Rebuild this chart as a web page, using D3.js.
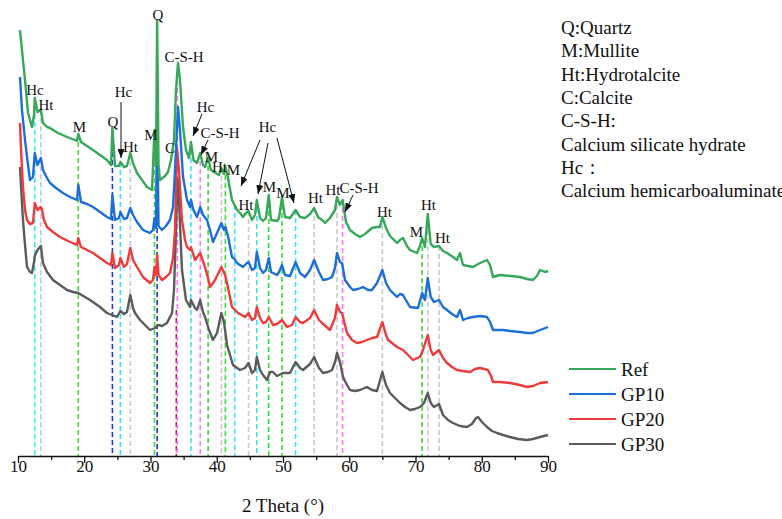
<!DOCTYPE html>
<html>
<head>
<meta charset="utf-8">
<script src="https://cdn.jsdelivr.net/npm/d3@7"></script>
<style>
body{margin:0;background:#fff}
svg text{font-family:"Liberation Serif","Times New Roman",serif;fill:#111}
</style>
</head>
<body>
<svg class="chart" width="782" height="519" font-family="Liberation Serif, Times New Roman, serif"></svg>
<script>
// 2 theta (deg), intensity (a.u.)
var refData = [[10.30,426],[10.75,396],[11.06,376],[11.51,343],[12.11,329],[12.42,341],[12.53,358],[12.94,344],[13.45,346],[13.77,333],[14.38,329],[14.83,328],[16.04,323],[17.40,319],[18.60,316],[18.91,315],[19.1,322],[19.51,314],[21.32,306],[22.38,301],[23.43,296],[24.04,291],[24.25,328],[24.64,290],[25.25,290],[25.45,294],[26.00,289],[26.45,290],[26.95,303],[27.36,293],[27.96,283],[28.72,276],[29.47,269],[30.23,266],[30.6,326],[30.83,291],[31.0,436],[31.21,291],[31.43,276],[32.19,280],[32.64,284],[33.09,296],[33.55,316],[33.85,366],[34.15,393],[34.45,376],[34.91,329],[35.36,306],[35.81,298],[36.1,314],[36.49,296],[37.02,293],[37.5,303],[37.92,291],[38.23,289],[38.7,298],[39.13,286],[39.58,284],[40.34,281],[40.7,288],[41.09,282],[41.3,289],[41.70,278],[42.30,256],[42.7,251],[43.06,246],[43.51,243],[43.96,239],[44.26,242],[44.8,245],[45.32,236],[45.77,241],[46.05,256],[46.53,238],[46.98,235],[47.43,238],[47.85,261],[48.19,236],[49.09,235],[49.40,238],[49.85,259],[50.30,239],[51.06,238],[51.9,246],[52.57,239],[53.32,238],[54.08,242],[54.7,248],[55.28,239],[55.89,236],[56.34,233],[57.09,238],[57.85,246],[58.15,259],[58.60,251],[59.0,256],[59.51,234],[60.11,226],[60.87,222],[61.62,219],[62.38,222],[63.43,228],[64.19,229],[64.64,229],[65.0,239],[65.55,228],[66.15,220],[67.21,213],[67.66,216],[68.11,218],[68.72,210],[69.17,206],[70.23,203],[70.68,210],[71.0,218],[71.43,209],[71.85,242],[72.30,212],[72.79,209],[73.55,210],[74.15,205],[74.75,203],[75.66,199],[76.26,196],[76.72,203],[77.17,191],[77.92,190],[78.68,189],[79.74,193],[80.79,196],[81.25,191],[81.70,179],[82.75,181],[84.26,180],[85.77,179],[86.83,177],[87.74,176],[88.34,180],[88.79,186],[89.55,184],[90.0,185]];

var gp10Data = [[10.30,379],[10.60,346],[11.06,316],[11.51,291],[11.81,276],[12.26,279],[12.53,303],[12.94,291],[13.45,298],[13.77,286],[14.38,278],[14.83,273],[15.74,268],[16.79,263],[17.85,259],[18.91,256],[19.1,271],[19.51,254],[20.42,252],[21.32,249],[22.38,244],[23.43,239],[24.04,237],[24.25,261],[24.64,236],[25.25,238],[25.45,244],[26.00,237],[26.45,238],[26.95,248],[27.36,241],[27.96,234],[28.87,226],[29.92,223],[30.38,226],[30.6,238],[30.83,228],[31.0,346],[31.21,230],[31.74,226],[32.34,230],[32.94,236],[33.40,249],[33.70,286],[34.15,349],[34.45,326],[34.91,279],[35.51,256],[35.96,249],[36.1,256],[36.49,246],[37.02,239],[37.5,249],[37.92,241],[38.53,236],[38.98,226],[39.43,214],[40.04,223],[40.7,233],[41.09,226],[41.3,229],[41.70,220],[42.30,199],[42.7,197],[43.06,193],[43.96,189],[44.57,193],[44.8,194],[45.32,186],[45.77,188],[46.05,204],[46.53,188],[46.98,183],[47.43,186],[47.85,198],[48.19,184],[49.09,181],[49.40,184],[49.85,191],[50.30,181],[51.06,180],[51.9,194],[52.57,183],[53.32,179],[54.08,186],[54.7,196],[55.43,184],[56.04,176],[56.79,177],[57.40,179],[57.85,188],[58.15,203],[58.60,194],[58.91,193],[59.36,176],[60.11,169],[60.57,166],[61.32,167],[62.08,169],[62.83,166],[63.43,166],[64.19,173],[65.0,186],[65.55,173],[66.15,166],[67.21,159],[67.66,162],[68.11,161],[68.72,154],[69.17,149],[70.38,148],[71.0,163],[71.43,156],[71.85,178],[72.30,159],[72.79,154],[73.55,156],[74.15,149],[74.75,146],[75.51,142],[76.26,139],[76.72,146],[77.17,136],[77.92,138],[78.68,139],[79.74,140],[80.79,139],[81.25,134],[81.70,126],[83.21,126],[84.26,125],[85.77,124],[86.83,123],[87.74,123],[88.79,126],[90.0,129]];

var gp20Data = [[10.30,333],[10.53,296],[10.75,269],[11.06,246],[11.36,236],[11.81,232],[12.26,233],[12.53,253],[12.94,246],[13.45,249],[13.62,246],[13.92,236],[14.38,229],[15.28,224],[16.34,219],[17.55,215],[18.91,211],[19.1,218],[19.51,209],[20.42,206],[21.32,203],[22.38,198],[23.43,193],[24.04,191],[24.25,203],[24.64,188],[25.25,191],[25.45,198],[26.00,189],[26.45,192],[26.95,208],[27.36,196],[27.96,189],[28.87,179],[29.92,173],[30.38,176],[30.6,189],[30.83,181],[31.0,201],[31.21,181],[31.74,176],[32.34,179],[32.94,183],[33.40,198],[33.70,226],[34.0,308],[34.30,286],[34.75,236],[35.21,216],[35.51,209],[35.96,206],[36.1,209],[36.72,196],[37.5,203],[38.23,189],[38.68,178],[38.98,169],[39.43,173],[39.74,176],[40.34,184],[40.7,189],[41.25,181],[41.55,173],[42.30,149],[43.21,143],[44.26,139],[44.8,143],[45.32,136],[45.77,138],[46.05,149],[46.53,138],[46.98,133],[47.43,134],[47.85,139],[48.49,131],[49.09,132],[49.85,136],[50.60,129],[51.36,131],[51.9,139],[52.57,134],[53.02,133],[54.08,138],[54.7,146],[55.43,136],[55.89,133],[57.09,126],[57.85,138],[58.15,151],[58.60,144],[58.91,143],[59.66,123],[60.42,116],[61.17,113],[61.92,114],[62.68,116],[63.43,118],[64.19,119],[65.0,134],[65.55,121],[65.85,116],[67.21,109],[68.11,106],[68.87,101],[69.62,96],[70.68,99],[71.13,106],[71.85,121],[72.30,106],[72.64,101],[73.55,106],[74.15,98],[74.75,93],[75.51,89],[76.26,86],[77.17,85],[78.23,84],[78.98,87],[79.74,88],[80.94,86],[81.40,80],[81.70,74],[82.75,74],[84.26,73],[85.77,71],[86.83,69],[87.74,70],[88.79,73],[90.0,74]];

var gp30Data = [[10.30,289],[10.53,261],[10.75,236],[11.06,211],[11.36,189],[11.81,184],[12.11,183],[12.42,194],[12.53,200],[12.94,206],[13.45,210],[13.77,193],[14.38,184],[15.28,176],[16.34,171],[17.40,166],[18.30,164],[19.1,163],[20.11,159],[20.87,156],[22.38,149],[23.43,143],[24.19,141],[24.94,139],[25.45,145],[26.00,142],[26.45,144],[26.95,161],[27.36,148],[27.66,143],[28.42,136],[28.87,133],[29.92,126],[30.68,128],[31.13,131],[31.74,130],[32.49,133],[33.25,143],[33.55,166],[33.85,226],[34.08,278],[34.30,256],[34.75,186],[35.36,156],[35.96,149],[36.1,156],[36.72,148],[37.02,146],[37.5,156],[37.92,144],[38.23,139],[38.83,126],[39.43,116],[40.04,123],[40.7,143],[41.09,134],[41.55,111],[42.45,91],[43.51,86],[44.26,88],[44.8,93],[45.32,83],[45.77,86],[46.05,99],[46.53,86],[46.98,81],[47.58,76],[48.04,84],[48.49,84],[49.09,80],[50.00,83],[51.06,83],[51.9,94],[52.57,88],[53.02,86],[54.08,92],[54.7,99],[55.43,88],[56.04,83],[56.79,84],[57.40,86],[57.85,94],[58.15,103],[58.60,94],[59.06,79],[59.66,71],[60.11,66],[60.87,65],[61.62,66],[62.68,69],[63.43,66],[64.19,65],[65.0,84],[65.55,71],[66.15,63],[66.91,58],[67.66,53],[68.42,49],[69.17,46],[69.92,47],[70.68,49],[71.28,53],[71.85,63],[72.30,53],[72.79,49],[73.55,52],[74.15,41],[74.91,36],[75.66,33],[76.72,30],[77.77,29],[78.53,32],[79.13,38],[79.43,39],[80.04,34],[80.79,29],[81.55,25],[82.30,23],[83.21,21],[84.26,19],[85.47,17],[86.83,16],[87.74,17],[88.79,19],[90.0,21]];

var seriesNames = ["Ref", "GP10", "GP20", "GP30"];
var seriesColors = ["#37a85a", "#1d6fd8", "#ee3b3b", "#5b5b5b"];
var allSeries = [refData, gp10Data, gp20Data, gp30Data];

var xTicks = [10, 20, 30, 40, 50, 60, 70, 80, 90];
var xMinor = [15, 25, 35, 45, 55, 65, 75, 85];

// phase reference lines: 2 theta, phase, optional top intensity
var refLines = [[12.53,"Hc"],[13.45,"Ht"],[19.1,"M"],[24.25,"Q"],[25.45,"Hc"],[26.95,"Ht"],[30.6,"M"],[31.0,"Q"],[33.9,"C",146],[34.05,"CSH"],[36.1,"Hc"],[37.5,"CSH"],[38.7,"M"],[40.7,"Ht"],[41.3,"M"],[42.7,"Hc"],[44.8,"Ht"],[46.05,"Hc"],[47.85,"M"],[49.85,"M"],[51.9,"Hc"],[54.7,"Ht"],[58.15,"Ht"],[59.0,"CSH"],[65.0,"Ht"],[71.0,"M"],[71.85,"Ht"],[73.55,"Ht"]];
var phaseColors = {Hc: "#3ae4fa", Ht: "#c9c9c9", M: "#3ddc3d", Q: "#2536d6", CSH: "#ff78ff", C: "#8e2f2f"};

// peak labels: text, 2 theta, intensity
var peakLabels = [["Hc",12.57,361],["Ht",14.23,346],["M",19.28,324],["Q",24.34,329],["Hc",25.92,359],["Ht",26.98,304],["M",30.08,316],["Q",31.13,436],["C",32.94,303],["C-S-H",35.06,394],["Hc",38.3,344],["C-S-H",40.49,318],["M",39.2,294],["Ht",40.4,284],["M",42.53,281],["Hc",47.66,324],["Ht",44.42,246],["M",47.96,264],["M",50.0,258],["Ht",54.91,253],["Ht",57.55,261],["C-S-H",61.47,263],["Ht",65.32,239],["M",70.15,219],["Ht",71.96,246],["Ht",74.07,213]];

// arrows: from (2theta, I) to (2theta, I)
var arrows = [[25.55,354,25.55,298],[37.77,342,36.42,320],[38.68,316,37.62,301],[46.53,316,43.66,270],[47.74,313,46.23,262],[49.09,318,51.66,253],[60.57,261,59.36,244]];

var phaseNotes = ["Q:Quartz", "M:Mullite", "Ht:Hydrotalcite", "C:Calcite", "C-S-H:", "Calcium silicate hydrate", "Hc：", "Calcium hemicarboaluminate"];

var serif = "Liberation Serif, Times New Roman, serif";
var margin = {top: 16, left: 18};
var width = 530;
var height = 440;

var svg = d3.select(".chart");
var defs = svg.append("defs");
defs.append("marker")
    .attr("id", "arrowHead")
    .attr("markerUnits", "userSpaceOnUse")
    .attr("markerWidth", 9)
    .attr("markerHeight", 7)
    .attr("refX", 9)
    .attr("refY", 3.5)
    .attr("orient", "auto")
    .append("path")
    .attr("d", "M0,0 L9,3.5 L0,7 Z")
    .attr("fill", "#111");

var chart = svg.append("g")
    .attr("transform", "translate(" + margin.left + "," + margin.top + ")");

var xChart = d3.scaleLinear().domain([10, 90]).range([0, width]);
var yChart = d3.scaleLinear().domain([0, 440]).range([height, 0]);

function valueAt(data, t){
    var i = d3.bisector(function(d){ return d[0]; }).left(data, t);
    if(i <= 0) return data[0][1];
    if(i >= data.length) return data[data.length - 1][1];
    var a = data[i - 1], b = data[i];
    return a[1] + (b[1] - a[1]) * (t - a[0]) / (b[0] - a[0]);
}

// dashed phase lines
chart.selectAll(".refLine")
    .data(refLines)
    .enter()
    .append("line")
    .attr("class", "refLine")
    .attr("x1", function(d){ return xChart(d[0]); })
    .attr("x2", function(d){ return xChart(d[0]); })
    .attr("y1", function(d){ return yChart(d.length > 2 ? d[2] : valueAt(refData, d[0])); })
    .attr("y2", height)
    .attr("stroke", function(d){ return phaseColors[d[1]]; })
    .attr("stroke-width", 1.6)
    .attr("stroke-dasharray", "5,3");

var line = d3.line()
    .x(function(d){ return xChart(d[0]); })
    .y(function(d){ return yChart(d[1]); });

// draw bottom curve first so Ref ends on top
for(var s = allSeries.length - 1; s >= 0; s--){
    chart.append("path")
        .datum(allSeries[s])
        .attr("fill", "none")
        .attr("stroke", seriesColors[s])
        .attr("stroke-width", 2.4)
        .attr("stroke-linejoin", "round")
        .attr("d", line);
}

// x axis
var xAxis = d3.axisBottom(xChart).tickValues(xTicks).tickSize(7).tickSizeOuter(0);
var xAxisMinor = d3.axisBottom(xChart).tickValues(xMinor).tickSize(4).tickFormat("");

chart.append("g")
    .attr("class", "xMinor")
    .attr("transform", "translate(0," + height + ")")
    .call(xAxisMinor)
    .select(".domain").remove();

var gx = chart.append("g")
    .attr("class", "xAxis")
    .attr("transform", "translate(0," + height + ")")
    .call(xAxis);
gx.attr("font-family", serif).attr("font-size", 17);
gx.select(".domain").attr("stroke", "#111").attr("stroke-width", 1.3);
gx.selectAll(".tick line").attr("stroke", "#111").attr("stroke-width", 1.3);
chart.selectAll(".xMinor .tick line").attr("stroke", "#111").attr("stroke-width", 1.3);
gx.selectAll("text")
    .attr("y", 4)
    .style("font-family", serif)
    .style("font-size", "17px")
    .attr("fill", "#111");

chart.append("text")
    .attr("x", width / 2)
    .attr("y", height + 56)
    .attr("text-anchor", "middle")
    .style("font-family", serif)
    .style("font-size", "19px")
    .text("2 Theta (°)");

// peak labels
chart.selectAll(".peakLabel")
    .data(peakLabels)
    .enter()
    .append("text")
    .attr("class", "peakLabel")
    .attr("x", function(d){ return xChart(d[1]); })
    .attr("y", function(d){ return yChart(d[2]); })
    .attr("text-anchor", "middle")
    .style("font-family", serif)
    .style("font-size", "15px")
    .text(function(d){ return d[0]; });

chart.selectAll(".arrow")
    .data(arrows)
    .enter()
    .append("line")
    .attr("class", "arrow")
    .attr("x1", function(d){ return xChart(d[0]); })
    .attr("y1", function(d){ return yChart(d[1]); })
    .attr("x2", function(d){ return xChart(d[2]); })
    .attr("y2", function(d){ return yChart(d[3]); })
    .attr("stroke", "#111")
    .attr("stroke-width", 1)
    .attr("marker-end", "url(#arrowHead)");

// legend
var legend = svg.append("g").attr("transform", "translate(569,369)");
seriesNames.forEach(function(name, i){
    legend.append("line")
        .attr("x1", 0).attr("x2", 47)
        .attr("y1", i * 25).attr("y2", i * 25)
        .attr("stroke", seriesColors[i])
        .attr("stroke-width", 2.2);
    legend.append("text")
        .attr("x", 52)
        .attr("y", i * 25 + 7)
        .style("font-family", serif)
        .style("font-size", "19px")
        .text(name);
});

// phase notes on the right
svg.selectAll(".note")
    .data(phaseNotes)
    .enter()
    .append("text")
    .attr("class", "note")
    .attr("x", 561)
    .attr("y", function(d, i){ return 34 + i * 23.3; })
    .style("font-family", serif)
    .style("font-size", "19px")
    .text(function(d){ return d; });
</script>
</body>
</html>
